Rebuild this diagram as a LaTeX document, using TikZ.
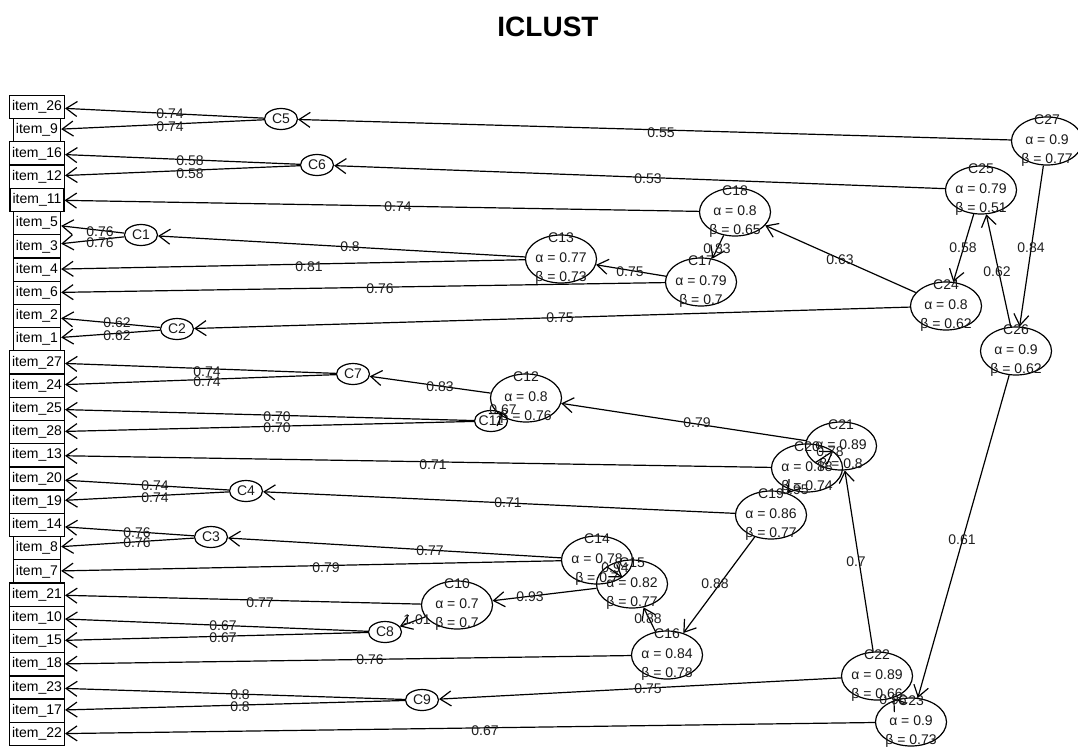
\documentclass[tikz,border=0pt]{standalone}
\usepackage{fontspec}
\setmainfont{Liberation Sans}
\usetikzlibrary{shapes.geometric,arrows.meta}
\newcommand\clusterbig[5]{\node[big,label={[ctext,name=#1t]center:{#1\\α = #4\\β = #5}}] (#1) at (#2,#3) {};}
\newcommand\clustersmall[3]{\node[small,label={[ctext,name=#1t]center:{#1}}] (#1) at (#2,#3) {};}
% \edgelab{from}{to}{x}{y}{text}
\newcommand\edgelab[5]{\draw[edge] (#1) -- (#2); \node[lab] (L#1#2) at (#3,#4) {#5};}
\begin{document}
\begin{tikzpicture}[x=1pt,y=-1pt,
 item/.style={draw, line width=1.3pt, rectangle, minimum height=23.22pt, inner xsep=2.5pt, inner ysep=0pt, font=\fontsize{14}{16}\selectfont},
 big/.style={draw, ellipse, line width=1.2pt, minimum width=71pt, minimum height=48pt, inner sep=0pt},
 small/.style={draw, ellipse, line width=1.2pt, minimum width=33pt, minimum height=21pt, inner sep=0pt},
 ctext/.style={font=\fontsize{14}{19.5}\selectfont, align=center, inner sep=0pt, text=black!90},
 edge/.style={draw, line width=1.2pt, -{Straight Barb[length=11pt,width=15pt]}},
 lab/.style={font=\fontsize{14}{16}\selectfont, text=black!88, inner sep=0pt}
]
\useasboundingbox (0,0) rectangle (1078,747);
\clip (0,0) rectangle (1078,747);
\node[font=\fontsize{28}{30}\selectfont\bfseries] (title) at (548,27) {ICLUST};
\foreach \n [count=\k from 0] in {26,9,16,12,11,5,3,4,6,2,1,27,24,25,28,13,20,19,14,8,7,21,10,15,18,23,17,22}
  \node[item] (i\n) at (37,{107+23.22*\k}) {item\_\n};
% large clusters
\clusterbig{C27}{1047}{141}{0.9}{0.77}
\clusterbig{C25}{981}{190}{0.79}{0.51}
\clusterbig{C24}{946}{306}{0.8}{0.62}
\clusterbig{C26}{1016}{351}{0.9}{0.62}
\clusterbig{C18}{735}{212}{0.8}{0.65}
\clusterbig{C13}{561}{259}{0.77}{0.73}
\clusterbig{C17}{701}{282}{0.79}{0.7}
\clusterbig{C12}{526}{398}{0.8}{0.76}
\clusterbig{C21}{841}{446}{0.89}{0.8}
\clusterbig{C20}{807}{468}{0.88}{0.74}
\clusterbig{C19}{771}{515}{0.86}{0.77}
\clusterbig{C14}{597}{560}{0.78}{0.7}
\clusterbig{C15}{632}{584}{0.82}{0.77}
\clusterbig{C10}{457}{605}{0.7}{0.7}
\clusterbig{C16}{667}{655}{0.84}{0.78}
\clusterbig{C22}{877}{676}{0.89}{0.66}
\clusterbig{C23}{911}{722}{0.9}{0.73}
% small clusters
\clustersmall{C5}{281}{119}
\clustersmall{C6}{317}{165}
\clustersmall{C1}{141}{235}
\clustersmall{C2}{177}{329}
\clustersmall{C7}{353}{374}
\clustersmall{C11}{491}{421}
\clustersmall{C4}{246}{491}
\clustersmall{C3}{211}{537}
\clustersmall{C8}{385}{632}
\clustersmall{C9}{422}{700}
% edges with labels
\edgelab{C27}{C5}{661}{133}{0.55}
\edgelab{C27}{C26}{1031}{248}{0.84}
\edgelab{C26}{C25}{997}{272}{0.62}
\edgelab{C26}{C23}{962}{540}{0.61}
\edgelab{C25}{C6}{648}{179}{0.53}
\edgelab{C25}{C24}{963}{248}{0.58}
\edgelab{C24}{C18}{840}{260}{0.63}
\edgelab{C24}{C2}{560}{318}{0.75}
\edgelab{C18}{i11}{398}{207}{0.74}
\edgelab{C18}{C17}{717}{249}{0.83}
\edgelab{C17}{C13}{630}{272}{0.75}
\edgelab{C17}{i6}{380}{289}{0.76}
\edgelab{C13}{C1}{350}{247}{0.8}
\edgelab{C13}{i4}{309}{267}{0.81}
\edgelab{C1}{i5}{100}{232}{0.76}
\edgelab{C1}{i3}{100}{243}{0.76}
\edgelab{C2}{i2}{117}{323}{0.62}
\edgelab{C2}{i1}{117}{336}{0.62}
\edgelab{C5}{i26}{170}{114}{0.74}
\edgelab{C5}{i9}{170}{127}{0.74}
\edgelab{C6}{i16}{190}{161}{0.58}
\edgelab{C6}{i12}{190}{174}{0.58}
\edgelab{C23}{C22}{893}{700}{0.96}
\edgelab{C23}{i22}{485}{731}{0.67}
\edgelab{C22}{C21}{856}{562}{0.7}
\edgelab{C22}{C9}{648}{689}{0.75}
\edgelab{C9}{i23}{240}{695}{0.8}
\edgelab{C9}{i17}{240}{707}{0.8}
\edgelab{C21}{C12}{697}{423}{0.79}
\edgelab{C21}{C20}{830}{452}{0.78}
\edgelab{C12}{C7}{440}{387}{0.83}
\edgelab{C12}{C11}{503}{410}{0.67}
\edgelab{C7}{i27}{207}{372}{0.74}
\edgelab{C7}{i24}{207}{382}{0.74}
\edgelab{C11}{i25}{277}{417}{0.70}
\edgelab{C11}{i28}{277}{428}{0.70}
\edgelab{C20}{i13}{433}{465}{0.71}
\edgelab{C20}{C19}{795}{490}{0.95}
\edgelab{C19}{C4}{508}{503}{0.71}
\edgelab{C19}{C16}{715}{584}{0.88}
\edgelab{C4}{i20}{155}{486}{0.74}
\edgelab{C4}{i19}{155}{498}{0.74}
\edgelab{C16}{C15}{648}{619}{0.88}
\edgelab{C16}{i18}{370}{660}{0.76}
\edgelab{C15}{C14}{615}{568}{0.94}
\edgelab{C15}{C10}{530}{597}{0.93}
\edgelab{C14}{C3}{430}{551}{0.77}
\edgelab{C14}{i7}{326}{568}{0.79}
\edgelab{C3}{i14}{137}{533}{0.76}
\edgelab{C3}{i8}{137}{543}{0.76}
\edgelab{C10}{i21}{260}{603}{0.77}
\edgelab{C10}{C8}{417}{620}{1.01}
\edgelab{C8}{i10}{223}{626}{0.67}
\edgelab{C8}{i15}{223}{638}{0.67}
\end{tikzpicture}
\end{document}
